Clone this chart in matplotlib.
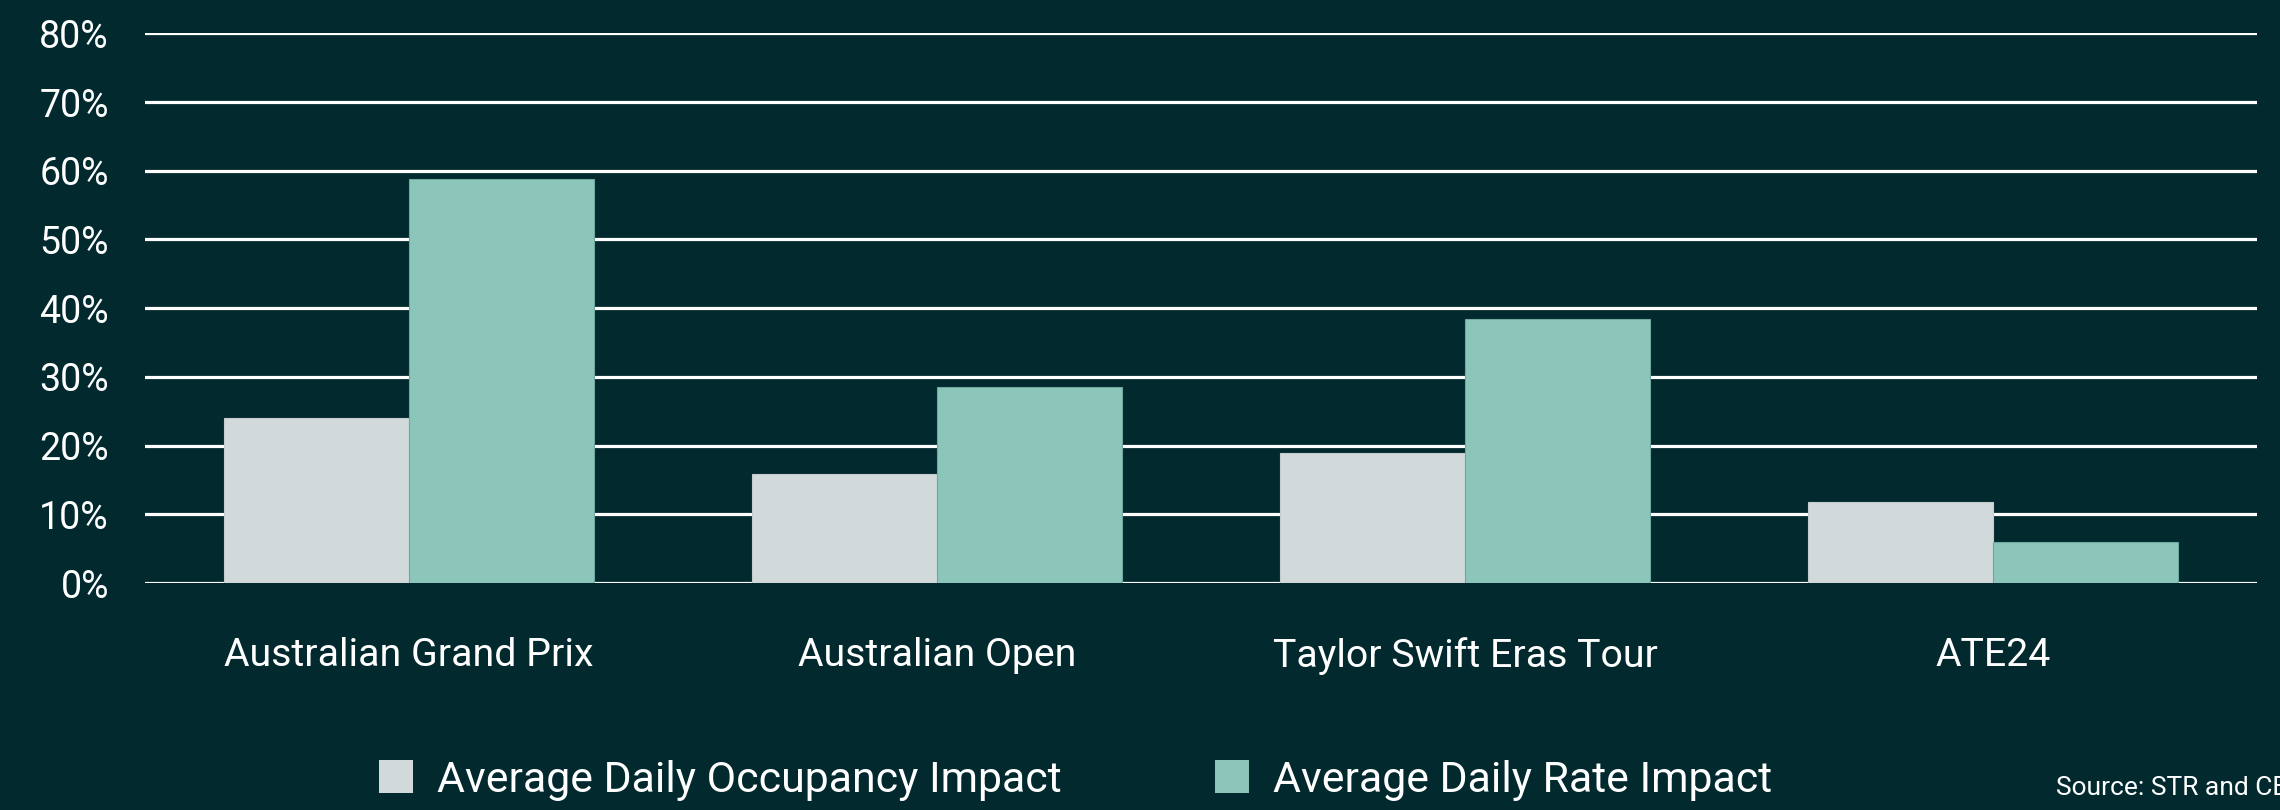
# grouped bar chart: occupancy vs rate impact of major Melbourne events

import matplotlib.pyplot as plt
from matplotlib.patches import Patch
import numpy as np

events = ['Australian Grand Prix', 'Australian Open', 'Taylor Swift Eras Tour', 'ATE24']
occupancy_impact = [24.0, 15.9, 18.9, 11.8]
rate_impact = [58.8, 28.6, 38.4, 6.0]
series_names = ['Average Daily Occupancy Impact', 'Average Daily Rate Impact']
y_ticks = [0, 10, 20, 30, 40, 50, 60, 70, 80]

bg = '#022a2e'
grey = '#d1d9db'
teal = '#8cc6bb'

plt.rcParams['font.family'] = ['Roboto', 'DejaVu Sans']

fig = plt.figure(figsize=(22.8, 8.1), dpi=100, facecolor=bg)
ax = fig.add_axes([0.0636, 0.2802, 0.9263, 0.6786], facecolor=bg)

x = np.arange(len(events))
bar_width = 0.351

ax.set_axisbelow(True)
ax.yaxis.grid(True, color='white', linewidth=2.3)
ax.bar(x - bar_width / 2, occupancy_impact, bar_width, color=grey,
       edgecolor='#c3cccd', linewidth=0.8)
ax.bar(x + bar_width / 2, rate_impact, bar_width, color=teal,
       edgecolor='#6fa89d', linewidth=0.8)

ax.set_xlim(-0.5, len(events) - 0.5)
ax.set_ylim(0, 80)
ax.set_yticks(y_ticks)
ax.set_yticklabels([f'{t}%' for t in y_ticks])
ax.set_xticks(x)
ax.set_xticklabels(events)

for s in ax.spines.values():
    s.set_visible(False)
ax.tick_params(axis='y', length=0, pad=26, labelsize=27, labelcolor='white')
ax.tick_params(axis='x', length=0, pad=39, labelsize=28.3, labelcolor='white')

handles = [Patch(facecolor=grey, edgecolor='none'), Patch(facecolor=teal, edgecolor='none')]
fig.legend(handles, series_names, loc='center', bbox_to_anchor=(0.4717, 0.037), ncol=2,
           frameon=False, fontsize=30.8, labelcolor='white',
           handlelength=0.8, handleheight=0.8, handletextpad=0.55, columnspacing=3.6)

# source note runs off the right edge, as in the original
fig.text(2056 / 2280, 0.012, 'Source: STR and CBRE', color='white', fontsize=19,
         ha='left', va='bottom')

fig.savefig('out.png', facecolor=bg)
